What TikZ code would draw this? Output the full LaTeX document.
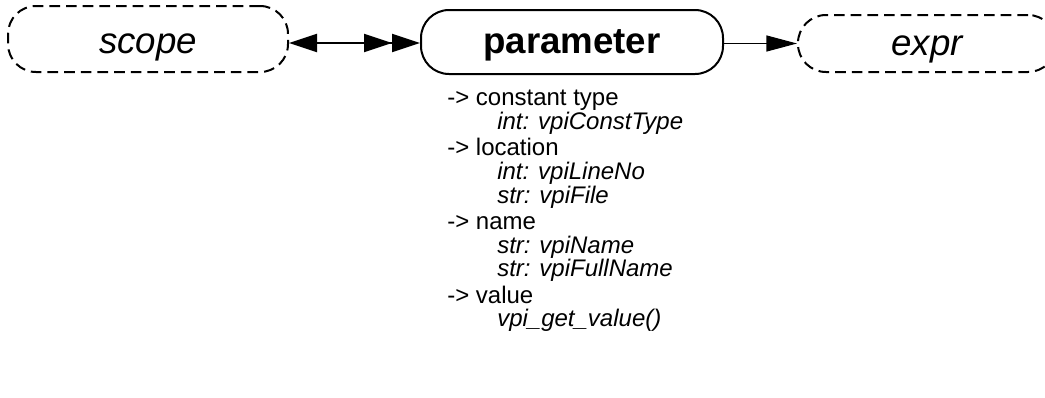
\documentclass[tikz,border=0pt]{standalone}
\usepackage{fontspec}
\setmainfont{Liberation Sans}
\usetikzlibrary{arrows.meta}
\tikzset{
  box/.style={draw, line width=1.5pt, rounded corners=21pt, inner sep=0pt,
    font=\fontsize{27.5}{30}\selectfont},
  dashbox/.style={box, dash pattern=on 8pt off 4.5pt},
  conn/.style={line width=1.5pt},
  hdr/.style={anchor=base west, inner sep=0pt, font=\fontsize{18}{20}\selectfont},
  itm/.style={hdr, font=\fontsize{18}{20}\selectfont\itshape}
}
\begin{document}
\begin{tikzpicture}[x=0.75pt,y=-0.75pt]
\useasboundingbox (0,0) rectangle (1045,397);
\node[dashbox, minimum width=280*0.75pt, minimum height=66*0.75pt, text height=24pt, text depth=3pt] (scope) at (148,39) {\itshape scope};
\node[box, minimum width=302*0.75pt, minimum height=64*0.75pt, text height=20pt, text depth=3.5pt] (param) at (572,42) {\bfseries parameter};
\node[dashbox, minimum width=258*0.75pt, minimum height=57*0.75pt, text height=20.5pt, text depth=3.25pt] (expr) at (927,43.5) {\itshape expr};
\draw[conn, {Triangle[length=21pt,width=13.5pt]}-{Triangle[length=21pt,width=13.5pt]Triangle[length=21pt,width=13.5pt]}]
  (scope.east |- 0,43) -- (param.west |- 0,43);
\draw[line width=1pt, -{Triangle[length=23pt,width=12pt]}] (param.east |- expr.west) -- (expr.west);
\node[hdr] (h1) at (447,105.5) {-> constant type};
\node[itm] (i1) at (497,129.5) {int: vpiConstType};
\node[hdr] (h2) at (447,155.5) {-> location};
\node[itm] (i2) at (497,179.5) {int: vpiLineNo};
\node[itm] (i3) at (497,203.5) {str: vpiFile};
\node[hdr] (h3) at (447,229.5) {-> name};
\node[itm] (i4) at (497,253.5) {str: vpiName};
\node[itm] (i5) at (497,276.5) {str: vpiFullName};
\node[hdr] (h4) at (447,303.5) {-> value};
\node[itm] (i6) at (497,326.5) {vpi\_get\_value()};
\end{tikzpicture}
\end{document}
